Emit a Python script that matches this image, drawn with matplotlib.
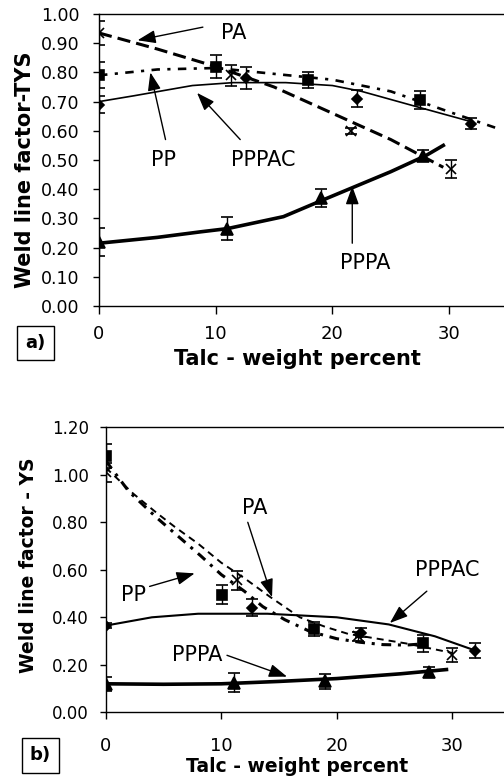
import numpy as np
import matplotlib
matplotlib.use("Agg")
import matplotlib.pyplot as plt

# ---- panel a) weld line factor - TYS ----
a_pa_x = [0, 11.3, 21.6, 30.2]
a_pa_y = [0.935, 0.79, 0.60, 0.47]
a_pa_e = [0.04, 0.037, 0.01, 0.03]
a_pp_x = [0, 10.0, 17.9, 27.5]
a_pp_y = [0.79, 0.82, 0.775, 0.705]
a_pp_e = [0.045, 0.04, 0.028, 0.03]
a_pppac_x = [0, 12.6, 22.1, 31.9]
a_pppac_y = [0.69, 0.78, 0.71, 0.625]
a_pppac_e = [0.03, 0.038, 0.03, 0.02]
a_pppa_x = [0, 11.0, 19.0, 27.8]
a_pppa_y = [0.22, 0.265, 0.37, 0.515]
a_pppa_e = [0.048, 0.04, 0.03, 0.02]

# trend curves
a_pa_cx = [0, 5, 10, 15, 20, 25, 29.5]
a_pa_cy = [0.935, 0.88, 0.82, 0.75, 0.66, 0.57, 0.475]
a_pp_cx = [0, 5, 10, 15, 20, 25, 30, 34]
a_pp_cy = [0.79, 0.81, 0.815, 0.795, 0.775, 0.735, 0.665, 0.61]
a_pppac_cx = [0, 3, 8, 11.5, 16, 20, 22.5, 27, 32]
a_pppac_cy = [0.70, 0.72, 0.755, 0.765, 0.765, 0.755, 0.735, 0.685, 0.63]
a_pppa_cx = [0, 5, 8.7, 11, 15.8, 19, 22, 25, 28, 29.5]
a_pppa_cy = [0.215, 0.235, 0.254, 0.265, 0.306, 0.36, 0.41, 0.46, 0.515, 0.55]

# ---- panel b) weld line factor - YS ----
b_pa_x = [0, 11.4, 21.8, 30.0]
b_pa_y = [1.01, 0.555, 0.32, 0.24]
b_pa_e = [0.04, 0.038, 0.02, 0.03]
b_pp_x = [0, 10.1, 18.0, 27.5]
b_pp_y = [1.08, 0.495, 0.35, 0.29]
b_pp_e = [0.05, 0.04, 0.03, 0.035]
b_pppac_x = [0, 12.7, 22.1, 32.0]
b_pppac_y = [0.365, 0.44, 0.335, 0.26]
b_pppac_e = [0.01, 0.035, 0.02, 0.03]
b_pppa_x = [0, 11.1, 19.0, 28.0]
b_pppa_y = [0.12, 0.125, 0.13, 0.17]
b_pppa_e = [0.03, 0.04, 0.03, 0.02]

b_pa_cx = [0, 2.4, 4.4, 6, 8, 10, 12, 14.2, 16.8, 19, 21, 23.5, 26, 28, 30]
b_pa_cy = [1.03, 0.92, 0.84, 0.78, 0.71, 0.63, 0.565, 0.487, 0.40, 0.36, 0.33, 0.31, 0.29, 0.27, 0.25]
b_pp_cx = [0, 2, 4.4, 8.2, 10, 12, 13.6, 15.5, 17.7, 20, 22, 24, 26, 28]
b_pp_cy = [1.06, 0.93, 0.82, 0.66, 0.58, 0.51, 0.445, 0.39, 0.34, 0.31, 0.295, 0.285, 0.283, 0.29]
b_pppac_cx = [0, 4, 8, 14, 20, 24.5, 28.5, 32]
b_pppac_cy = [0.365, 0.40, 0.415, 0.415, 0.40, 0.37, 0.32, 0.26]
b_pppa_cx = [0, 5, 10, 15, 20, 25.5, 29.5]
b_pppa_cy = [0.12, 0.118, 0.12, 0.13, 0.142, 0.162, 0.18]

x_ticks = [0, 10, 20, 30]
a_y_ticks = np.arange(0, 1.01, 0.1)
b_y_ticks = np.arange(0, 1.21, 0.2)

W, H = 504, 778
fig = plt.figure(figsize=(W / 100, H / 100), dpi=100)

def px_ax(left, right, top, bottom):
    return fig.add_axes([left / W, 1 - bottom / H, (right - left) / W, (bottom - top) / H])

arrow = dict(arrowstyle='-|>,head_length=1.1,head_width=0.4', color='black', lw=1,
             shrinkA=0, shrinkB=0, mutation_scale=10)

def style_axes(ax, ylim, yticks, tick_fs, xtick_fs, xpad, ypad, xtl):
    ax.set_xlim(0, 35)
    ax.set_ylim(*ylim)
    ax.set_xticks(x_ticks)
    ax.set_yticks(yticks)
    ax.set_yticklabels(['%.2f' % v for v in yticks])
    ax.tick_params(axis='y', direction='out', length=4, width=1, pad=ypad, labelsize=tick_fs)
    ax.tick_params(axis='x', direction='out', length=xtl, width=1, pad=xpad, labelsize=xtick_fs)
    ax.spines['right'].set_visible(False)
    for s in ['left', 'bottom', 'top']:
        ax.spines[s].set_linewidth(1)

def draw_points(ax, x, y, e, marker, ms):
    ax.errorbar(x, y, yerr=e, fmt=marker, ms=ms, color='black', mfc='black', mec='black',
                ecolor='black', elinewidth=1, capsize=4.5, capthick=1, mew=1.2, zorder=4)

# panel a
ax1 = px_ax(99, 507.5, 14, 306)
style_axes(ax1, (0, 1.0), a_y_ticks, 12.5, 13, 8, 10, 6)
ax1.plot(a_pa_cx, a_pa_cy, color='black', lw=2.2, linestyle=(0, (4.3, 2)))
ax1.plot(a_pp_cx, a_pp_cy, color='black', lw=1.9, linestyle=(0, (3.2, 2.8, 1.2, 2.8)))
ax1.plot(a_pppac_cx, a_pppac_cy, color='black', lw=1.2)
ax1.plot(a_pppa_cx, a_pppa_cy, color='black', lw=2.6)
draw_points(ax1, a_pa_x, a_pa_y, a_pa_e, 'x', 7)
draw_points(ax1, a_pp_x, a_pp_y, a_pp_e, 's', 6.5)
draw_points(ax1, a_pppac_x, a_pppac_y, a_pppac_e, 'D', 5.5)
draw_points(ax1, a_pppa_x, a_pppa_y, a_pppa_e, '^', 8)

ax1.text(11.5, 0.935, 'PA', fontsize=15, ha='center', va='center')
ax1.annotate('', xy=(3.3, 0.91), xytext=(8.9, 0.955), arrowprops=arrow)
ax1.text(5.5, 0.50, 'PP', fontsize=15, ha='center', va='center')
ax1.annotate('', xy=(4.4, 0.80), xytext=(5.7, 0.57), arrowprops=arrow)
ax1.text(14.1, 0.50, 'PPPAC', fontsize=15, ha='center', va='center')
ax1.annotate('', xy=(8.4, 0.73), xytext=(12.1, 0.57), arrowprops=arrow)
ax1.text(22.8, 0.147, 'PPPA', fontsize=15, ha='center', va='center')
ax1.annotate('', xy=(21.7, 0.41), xytext=(21.7, 0.215), arrowprops=arrow)

fig.text(25 / W, 1 - 170 / H, 'Weld line factor-TYS', rotation=90, fontsize=15,
         fontweight='bold', ha='center', va='center')
fig.text(297 / W, 1 - 359 / H, 'Talc - weight percent', fontsize=15,
         fontweight='bold', ha='center', va='center')
fig.text(35.5 / W, 1 - 343 / H, 'a)', fontsize=13, fontweight='bold', ha='center', va='center',
         bbox=dict(boxstyle='square,pad=0.45', fc='white', ec='black', lw=1))

# panel b
ax2 = px_ax(105.7, 510, 427.3, 712.3)
style_axes(ax2, (0, 1.2), b_y_ticks, 12, 13, 13, 8, 5)
ax2.plot(b_pa_cx, b_pa_cy, color='black', lw=1.4, linestyle=(0, (3.6, 2.6)))
ax2.plot(b_pp_cx, b_pp_cy, color='black', lw=2.2, linestyle=(0, (3.2, 2.2, 1, 2.2)))
ax2.plot(b_pppac_cx, b_pppac_cy, color='black', lw=1.5)
ax2.plot(b_pppa_cx, b_pppa_cy, color='black', lw=2.6)
draw_points(ax2, b_pa_x, b_pa_y, b_pa_e, 'x', 7)
draw_points(ax2, b_pp_x, b_pp_y, b_pp_e, 's', 6.5)
draw_points(ax2, b_pppac_x, b_pppac_y, b_pppac_e, 'D', 5.5)
draw_points(ax2, b_pppa_x, b_pppa_y, b_pppa_e, '^', 8)

ax2.text(12.9, 0.86, 'PA', fontsize=15, ha='center', va='center')
ax2.annotate('', xy=(14.4, 0.485), xytext=(12.3, 0.80), arrowprops=arrow)
ax2.text(2.4, 0.495, 'PP', fontsize=15, ha='center', va='center')
ax2.annotate('', xy=(7.7, 0.585), xytext=(3.8, 0.53), arrowprops=arrow)
ax2.text(29.6, 0.60, 'PPPAC', fontsize=15, ha='center', va='center')
ax2.annotate('', xy=(24.6, 0.376), xytext=(27.8, 0.51), arrowprops=arrow)
ax2.text(7.9, 0.24, 'PPPA', fontsize=15, ha='center', va='center')
ax2.annotate('', xy=(15.7, 0.15), xytext=(10.5, 0.24), arrowprops=arrow)

fig.text(29 / W, 1 - 565 / H, 'Weld line factor - YS', rotation=90, fontsize=13.5,
         fontweight='bold', ha='center', va='center')
fig.text(297.5 / W, 1 - 766 / H, 'Talc - weight percent', fontsize=13.5,
         fontweight='bold', ha='center', va='center')
fig.text(40.5 / W, 1 - 755.5 / H, 'b)', fontsize=13, fontweight='bold', ha='center', va='center',
         bbox=dict(boxstyle='square,pad=0.45', fc='white', ec='black', lw=1))

fig.savefig('out.png', dpi=100)
